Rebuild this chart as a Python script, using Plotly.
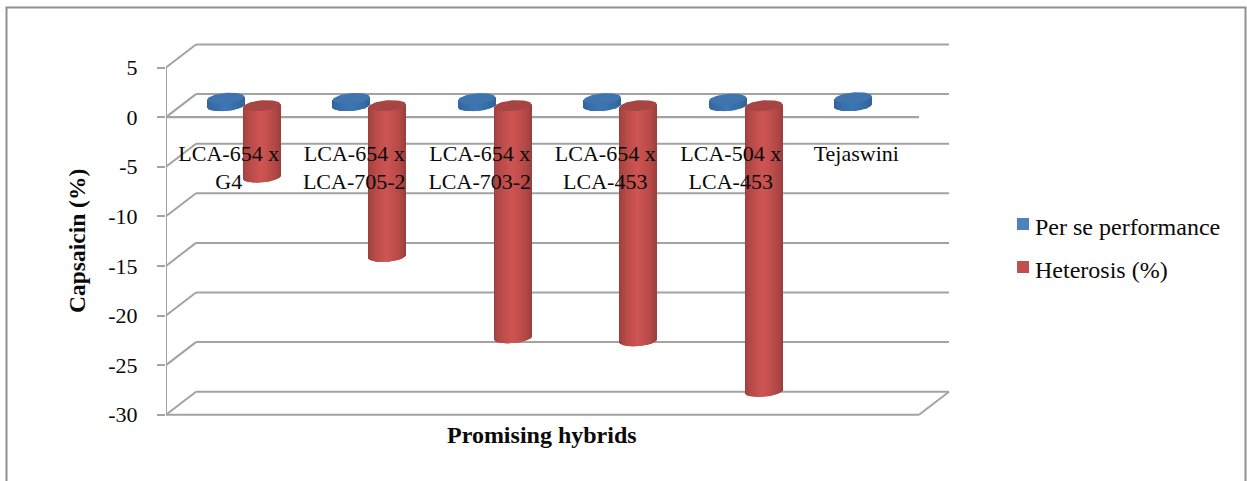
import numpy as np
import plotly.graph_objects as go

# Chart data
hybrids = ["LCA-654 x<br>G4", "LCA-654 x<br>LCA-705-2", "LCA-654 x<br>LCA-703-2",
           "LCA-654 x<br>LCA-453", "LCA-504 x<br>LCA-453", "Tejaswini"]
per_se = [0.75, 0.72, 0.7, 0.7, 0.65, 0.8]
heterosis = [-7.2, -15.2, -23.4, -23.7, -28.8, None]
y_ticks = [5, 0, -5, -10, -15, -20, -25, -30]
y_tick_labels = ["5", "0", "-5", "-10", "-15", "-20", "-25", "-30"]
series_names = ["Per se performance", "Heterosis (%)"]
series_colors = ["#4f81bd", "#c0504d"]

W, H = 1247, 481
FONT = "Liberation Serif"
INK = "#0a0a0a"
GRID = "#a3a3a3"

# Plot rectangle in pixels and the matching axis ranges
LEFT, RIGHT, TOP, BOTTOM = 166, 952, 40, 418
PX_PER_CAT = 125.5
PX_PER_UNIT = 9.92
x_range = [0, (RIGHT - LEFT) / PX_PER_CAT]
y_low = -30 - (BOTTOM - 414.7) / PX_PER_UNIT
y_high = y_low + (BOTTOM - TOP) / PX_PER_UNIT

# Oblique depth of the chart box, in axis units
DEPTH_X = 30 / PX_PER_CAT
DEPTH_Y = 23 / PX_PER_UNIT

# Cylinder proportions, in axis units
RADIUS = 18.5 / PX_PER_CAT
SERIES_OFFSET = 18 / PX_PER_CAT
CAP_RY = 5.3 / PX_PER_UNIT
TILT = 1.0  # rise of the ellipse per category unit
STRIPS = 40


def shade(edge, mid, u):
    """Colour across a cylinder: u=-1 left edge, u=0 lit centre, u=1 right edge."""
    t = (1 - abs(u)) ** 0.55
    rgb = [round(a + (b - a) * t) for a, b in zip(edge, mid)]
    return f"rgb({rgb[0]},{rgb[1]},{rgb[2]})"


fig = go.Figure()


def add_cylinders(name, values, offset, color, edge, mid, cap):
    idx = [i for i, v in enumerate(values) if v is not None]
    vals = np.array([values[i] for i in idx], dtype=float)
    centers = np.array(idx) + 0.5 + DEPTH_X / 2 + offset

    # Plain bars carry the series values
    fig.add_trace(go.Bar(
        name=name, x=centers, y=vals, base=DEPTH_Y / 2,
        width=2 * RADIUS * 0.9, marker=dict(color=color, line_width=0),
        hoverinfo="x+y", showlegend=False,
    ))

    # Narrow strips give the rounded shading and the curved lower rim
    step = 2 / STRIPS
    for u in np.arange(-1 + step / 2, 1, step):
        shear = TILT * u * RADIUS
        curve = CAP_RY * np.sqrt(1 - u * u)
        low = np.minimum(vals, 0) + DEPTH_Y / 2 + shear - curve
        high = np.maximum(vals, 0) + DEPTH_Y / 2 + shear
        fig.add_trace(go.Bar(
            x=centers + u * RADIUS, y=high - low, base=low,
            width=step * RADIUS * 1.35,
            marker=dict(color=shade(edge, mid, u), line_width=0),
            showlegend=False, hoverinfo="skip",
        ))

    # Elliptical end caps
    theta = np.linspace(0, 2 * np.pi, 60)
    for c, v in zip(centers, vals):
        px = RADIUS * np.cos(theta)
        py = CAP_RY * np.sin(theta)
        fig.add_trace(go.Scatter(
            x=c + px, y=max(v, 0) + DEPTH_Y / 2 + TILT * px + py,
            mode="lines", fill="toself", fillcolor=cap, line=dict(width=0, color=cap),
            showlegend=False, hoverinfo="skip", cliponaxis=False,
        ))


add_cylinders(series_names[0], per_se, -SERIES_OFFSET, series_colors[0],
              (48, 96, 150), (60, 118, 180), "#3f74ae")
add_cylinders(series_names[1], heterosis, SERIES_OFFSET, series_colors[1],
              (150, 60, 58), (206, 84, 82), "#a64543")


def box_line(x0, y0, x1, y1, width=2.0):
    return dict(type="line", xref="x", yref="y", x0=x0, y0=y0, x1=x1, y1=y1,
                layer="below", line=dict(color=GRID, width=width))


n_cats = len(hybrids)
shapes = []
for t in y_ticks:
    # Back wall line and the slanted side-wall line for each tick
    shapes.append(box_line(DEPTH_X, t + DEPTH_Y, n_cats + DEPTH_X, t + DEPTH_Y))
    shapes.append(box_line(0, t, DEPTH_X, t + DEPTH_Y))
# Front vertical axis, zero line, floor edge and right floor corner
shapes.append(box_line(0, min(y_ticks), 0, max(y_ticks)))
shapes.append(box_line(0, 0, n_cats, 0, 2.4))
shapes.append(box_line(0, -30, n_cats, -30))
shapes.append(box_line(n_cats, -30, n_cats + DEPTH_X, -30 + DEPTH_Y))

# Outer frame, open at the bottom of the page
shapes.append(dict(
    type="path", xref="paper", yref="paper", layer="below",
    path=f"M {6.5 / W} 0 L {6.5 / W} {1 - 7.5 / H} L {1245.5 / W} {1 - 7.5 / H} L {1245.5 / W} 0",
    line=dict(color="#8f8f8f", width=2),
))

annotations = [
    dict(text="<b>Capsaicin (%)</b>", xref="paper", yref="paper",
         x=77 / W, y=1 - 241 / H, textangle=-90, showarrow=False,
         xanchor="center", yanchor="middle",
         font=dict(family=FONT, size=23.5, color=INK)),
    dict(text="<b>Promising hybrids</b>", xref="paper", yref="paper",
         x=542 / W, y=1 - 435 / H, showarrow=False,
         xanchor="center", yanchor="middle",
         font=dict(family=FONT, size=24, color=INK)),
]

# Legend: square key and name for each series
for key_y, text_y, name, color in zip((224, 267), (227, 270), series_names, series_colors):
    shapes.append(dict(
        type="rect", xref="paper", yref="paper", layer="above",
        x0=1017 / W, x1=1029 / W, y0=1 - (key_y - 6) / H, y1=1 - (key_y + 6) / H,
        fillcolor=color, line_width=0,
    ))
    annotations.append(dict(
        text=name, xref="paper", yref="paper", x=1033 / W, y=1 - text_y / H,
        xanchor="left", yanchor="middle", showarrow=False,
        font=dict(family=FONT, size=24, color=INK),
    ))

fig.update_layout(
    width=W, height=H, autosize=False,
    margin=dict(l=0, r=0, t=0, b=0, autoexpand=False),
    paper_bgcolor="white", plot_bgcolor="white",
    barmode="overlay", showlegend=False,
    font=dict(family=FONT, size=22, color=INK),
    shapes=shapes,
    annotations=annotations,
    xaxis=dict(
        domain=[LEFT / W, RIGHT / W], range=x_range, anchor="free",
        position=1 - 117.3 / H,
        tickmode="array", tickvals=[i + 0.5 for i in range(n_cats)], ticktext=hybrids,
        ticks="outside", ticklen=16, tickcolor="rgba(0,0,0,0)",
        showgrid=False, zeroline=False, showline=False,
        tickfont=dict(family=FONT, size=22, color=INK),
    ),
    yaxis=dict(
        domain=[1 - BOTTOM / H, 1 - TOP / H], range=[y_low, y_high],
        tickmode="array", tickvals=y_ticks, ticktext=y_tick_labels,
        ticks="outside", ticklen=8, tickwidth=2, tickcolor=GRID,
        ticklabelstandoff=15,
        showgrid=False, zeroline=False, showline=False,
        tickfont=dict(family=FONT, size=22, color=INK),
    ),
)

fig.write_html("out.html")
